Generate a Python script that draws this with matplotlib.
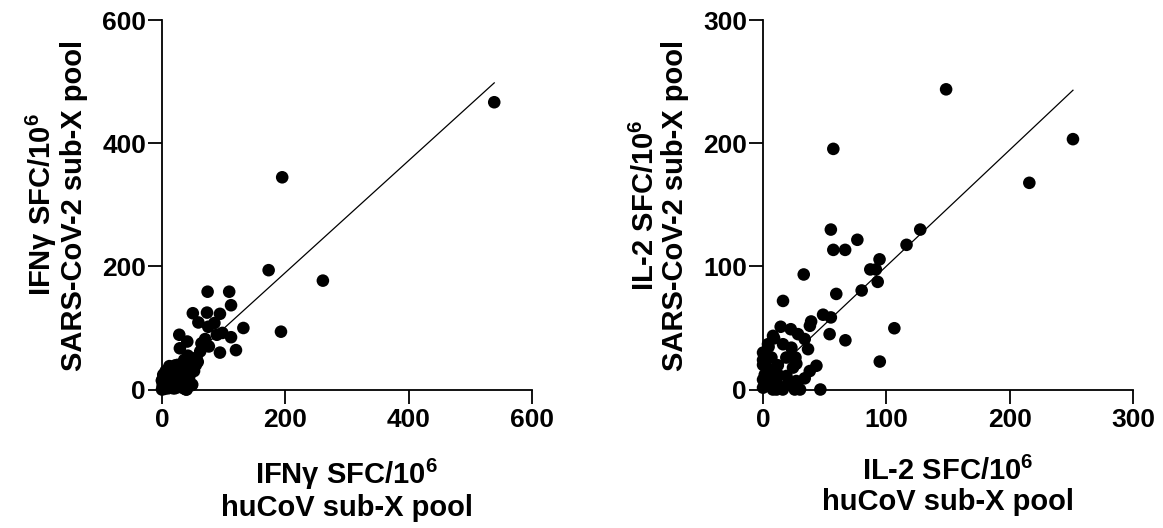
import matplotlib.pyplot as plt
import numpy as np

plt.rcParams['font.family'] = ['Liberation Sans', 'DejaVu Sans']
plt.rcParams['font.weight'] = 'bold'
plt.rcParams['mathtext.fontset'] = 'custom'
plt.rcParams['mathtext.rm'] = 'Liberation Sans:bold'
plt.rcParams['mathtext.default'] = 'rm'

# IFN-gamma panel: huCoV (x) vs SARS-CoV-2 (y)
ifng_hucov = [539, 195, 173, 261, 193, 74, 109, 112, 50, 73, 94, 59, 85, 75, 132,
              98, 28, 112, 89, 70, 41, 120, 94, 76, 29, 62, 56, 45, 64, 37,
              21, 10, 48, 29, 35, 21, 2, 0, 5, 16, 49, 39,
              0, 2, 4, 6, 3, 8, 10, 12, 5, 9, 14, 16, 18, 20, 22, 24, 26, 28,
              15, 10, 30, 32, 35, 38, 40, 12, 6, 1, 0, 2, 18, 25, 34, 44, 48,
              52, 42, 36, 55, 58]
ifng_sars = [467, 345, 194, 177, 94, 159, 159, 137, 124, 125, 123, 109, 108, 102, 100,
             92, 89, 85, 89, 82, 78, 64, 60, 70, 67, 62, 52, 48, 75, 37,
             39, 32, 7, 16, 2, 2, 5, 15, 21, 26, 8, 0,
             0, 3, 1, 8, 12, 5, 2, 10, 18, 22, 16, 6, 25, 12, 30, 20, 4, 34,
             32, 28, 26, 10, 40, 22, 0, 38, 30, 6, 14, 24, 2, 40, 30, 20, 42,
             30, 55, 48, 40, 45]
ifng_fit = (0.91, 8.0)  # slope, intercept

# IL-2 panel: huCoV (x) vs SARS-CoV-2 (y)
il2_hucov = [148.5, 251.4, 57, 216, 55, 76.5, 57, 66.6, 116.4, 127.5, 94.5, 87, 91.5,
             93, 33, 59.4, 80, 16.2, 48.7, 55, 39, 38, 106.5, 54, 66.8, 94.7, 46.5,
             14.3, 22.5, 28.4, 33.8, 36.5, 8.1, 4, 16.2, 23, 0, 6.8, 18.9, 26.3,
             24.3, 0, 9.5, 43.3, 37.9, 33.8, 27, 19, 10.8, 4, 0, 8, 16, 25.7,
             1.4, 12.2, 9, 4.5, 12, 27, 0, 2, 6, 14, 20, 3, 0, 11, 30]
il2_sars = [244, 203.5, 195.6, 168, 130, 121.7, 113.5, 113.5, 117.6, 130, 105.8, 97.6, 97.6,
            87.5, 93.5, 77.7, 80.5, 72, 60.8, 58.6, 55.3, 51.8, 49.8, 45, 40, 22.7, 0,
            51, 49, 45, 41, 32.8, 43.6, 36.8, 36.8, 34, 30, 26, 26, 26,
            17.8, 20, 15, 19.3, 15, 9.1, 6.9, 11, 5.6, 9.6, 1.5, 0, 0, 0,
            12, 12, 41.6, 34.7, 19.7, 21, 8, 4, 3, 2, 4, 18, 24, 0, 0]
il2_fit = (0.945, 5.7)

panels = [
    (ifng_hucov, ifng_sars, ifng_fit, [0, 200, 400, 600],
     'IFNγ SFC/10$^{6}$\nhuCoV sub-X pool',
     'IFNγ SFC/10$^{6}$\nSARS-CoV-2 sub-X pool'),
    (il2_hucov, il2_sars, il2_fit, [0, 100, 200, 300],
     'IL-2 SFC/10$^{6}$\nhuCoV sub-X pool',
     'IL-2 SFC/10$^{6}$\nSARS-CoV-2 sub-X pool'),
]

fig = plt.figure(figsize=(11.63, 5.28), dpi=100)
lefts = [0.1393, 0.6561]
for left, (xs, ys, fit, ticks, xlab, ylab) in zip(lefts, panels):
    ax = fig.add_axes([left, 0.2623, 0.318, 0.699])
    ax.scatter(xs, ys, s=82, color='black', edgecolors='none', clip_on=False, zorder=3)
    lx = np.array([0, max(xs)])
    ax.plot(lx, fit[0] * lx + fit[1], color='black', lw=0.9, zorder=2)
    ax.set_xlim(ticks[0], ticks[-1])
    ax.set_ylim(ticks[0], ticks[-1])
    ax.set_xticks(ticks)
    ax.set_yticks(ticks)
    for s in ['top', 'right']:
        ax.spines[s].set_visible(False)
    for s in ['left', 'bottom']:
        ax.spines[s].set_linewidth(1.3)
    ax.tick_params(length=10, width=1.3, labelsize=19)
    ax.tick_params(axis='y', pad=1.5)
    ax.tick_params(axis='x', pad=3.5)
    for lab in ax.get_xticklabels() + ax.get_yticklabels():
        lab.set_fontweight('bold')
    ax.set_xlabel(xlab, fontsize=21, fontweight='bold', labelpad=18, linespacing=1.05)
    ax.set_ylabel(ylab, fontsize=21, fontweight='bold', labelpad=10, linespacing=1.05)

fig.savefig('out.png', dpi=100)
